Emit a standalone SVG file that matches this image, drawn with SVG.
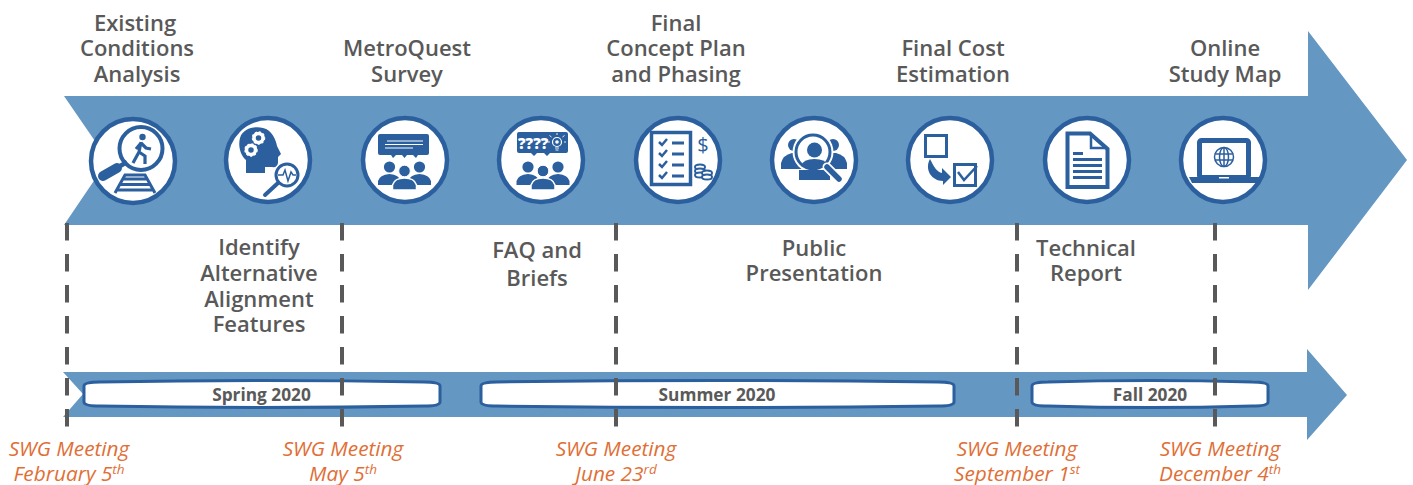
<svg xmlns="http://www.w3.org/2000/svg" width="1413" height="485" viewBox="0 0 1413 485">
<style>
text{font-family:"Open Sans","Noto Sans","Liberation Sans",sans-serif}
.t{font-size:22px;font-weight:600;fill:#595959;text-anchor:middle}
.p{font-size:17.300px;font-weight:700;fill:#595959;text-anchor:middle}
.m{font-size:20.800px;font-style:italic;fill:#df6f37;text-anchor:middle}
.a{fill:#6497c1}
.c{fill:#fff;stroke:#2b5f9e;stroke-width:4.5}
.d{fill:#2b5f9e}
.s{fill:none;stroke:#2b5f9e}
.w{fill:none;stroke:#fff}
.pill{fill:#fff;stroke:#2b5f9e;stroke-width:3}
.dash{stroke:#595959;stroke-width:4;stroke-dasharray:17.5 13.5;fill:none}
</style>
<defs>
<g id="people">
<circle class="d" cx="-15" cy="-4" r="5.6"/><circle class="d" cx="15" cy="-4" r="5.6"/>
<path class="d" d="M-26.500 14V10Q-25 4-15 3Q-5 4-4 10V14ZM26.500 14V10Q25 4 15 3Q5 4 4 10V14Z"/>
<circle class="d" cx="0" cy="0" r="5.800" stroke="#fff" stroke-width="1"/>
<path class="d" stroke="#fff" stroke-width="1.500" d="M-12 19V14Q-10 7 0 7Q10 7 12 14V19Z"/>
</g>
</defs>

<g id="main-arrow"><path class="a" d="M64 96H1308V31L1407 160L1308 290V225H64L108 160Z"/></g>
<g id="season-arrow"><path class="a" d="M63 372H1307V349L1347 395L1307 440V417H63L83 394Z"/></g>

<g id="spring"><path class="pill" d="M84 386Q84 382 100 382Q262 379 424 382Q440 382 440 386V402Q440 406 424 406Q262 409 100 406Q84 406 84 402Z"/><text class="p" x="261.500" y="401">Spring 2020</text></g>
<g id="summer"><path class="pill" d="M481 386Q481 382 497 382Q718 379 938 382Q954 382 954 386V402Q954 406 938 406Q718 409 497 406Q481 406 481 402Z"/><text class="p" x="717" y="401">Summer 2020</text></g>
<g id="fall"><path class="pill" d="M1032 386Q1032 382 1048 382Q1150 379 1252 382Q1268 382 1268 386V402Q1268 406 1252 406Q1150 409 1048 406Q1032 406 1032 402Z"/><text class="p" x="1150" y="401">Fall 2020</text></g>

<g id="connectors">
<path class="dash" d="M67 223V428"/><path class="dash" d="M342 223V428"/><path class="dash" d="M616 223V428"/><path class="dash" d="M1017 223V428"/><path class="dash" d="M1215 223V428"/>
</g>

<g id="n1"><circle class="c" cx="133" cy="161" r="42"/>
<path class="s" stroke-width="3" d="M115 193L125 175H145L155 193M122 179H148M119 184.500H151M116 190H154"/>
<circle cx="141" cy="148.500" r="21.500" fill="#fff" stroke="#2b5f9e" stroke-width="4"/>
<path class="s" stroke-width="10" stroke-linecap="round" d="M103 176L117 168"/><path class="s" stroke-width="4.500" d="M115 169L127 162"/>
<circle class="d" cx="142.500" cy="137" r="3.200"/>
<path class="s" stroke-width="3.200" d="M141 142L139 152L133 163M139 152L145 156V164M141 143L136 149M141 143L146 148L151 149"/>
<text class="t" x="135" y="31">Existing</text><text class="t" x="137" y="56">Conditions</text><text class="t" x="137" y="82">Analysis</text></g>

<g id="n2"><circle class="c" cx="268" cy="160" r="42"/>
<path class="d" d="M246 173V160C240 155 238 145 240 138C243 128 255 126 263 128C272 130 276 140 277 146L281 154L278 157V163Q277 168 272 167H265V173Z"/>
<circle cx="258.500" cy="138" r="4.500" fill="none" stroke="#fff" stroke-width="3.500"/><circle cx="258.500" cy="138" r="6" fill="none" stroke="#fff" stroke-width="1.500" stroke-dasharray="2 2"/>
<circle cx="251" cy="150" r="4.500" fill="none" stroke="#fff" stroke-width="3.500"/><circle cx="251" cy="150" r="6" fill="none" stroke="#fff" stroke-width="1.500" stroke-dasharray="2 2"/>
<circle cx="287" cy="175" r="11" fill="#fff" stroke="#2b5f9e" stroke-width="3"/>
<path class="s" stroke-width="1.500" d="M278 175H283L285 170L288 181L291 172L293 175H296"/>
<path class="s" stroke-width="4" stroke-linecap="round" d="M265 195L278 183"/></g>

<g id="n3"><circle class="c" cx="405" cy="160" r="42"/>
<path class="d" d="M380 134H427Q429 134 429 136V153Q429 155 427 155H418L416 158L413 155H407L404.500 158L402 155H396L393 158L391 155H380Q378 155 378 153V136Q378 134 380 134Z"/>
<path class="w" stroke-width="1" d="M387 141H423M385 144.500H423M385 148H413"/>
<use href="#people" x="404.500" y="171"/>
<text class="t" x="407" y="56">MetroQuest</text><text class="t" x="407" y="82">Survey</text></g>

<g id="n4"><circle class="c" cx="541" cy="160" r="42"/>
<path class="d" d="M519 132H566Q568 132 568 134V151Q568 153 566 153H550L547 156L544 153H537L534 156L531 153H519Q517 153 517 151V134Q517 132 519 132Z"/>
<text x="518" y="149" font-size="15" font-weight="800" fill="#fff">????</text>
<circle cx="557" cy="142" r="4.500" fill="none" stroke="#fff" stroke-width="1.200"/><circle cx="557" cy="142" r="1.800" fill="#fff"/>
<path stroke="#fff" stroke-width=".9" fill="none" d="M549.500 135.500L551.500 137M564.500 135.500L562.500 137M548 142H550M564 142H566M557 133V135M555 148H559M555.500 150H558.500"/>
<use href="#people" x="543" y="171"/>
<text class="t" x="537" y="258">FAQ and</text><text class="t" x="537" y="286">Briefs</text></g>

<g id="n5"><circle class="c" cx="678" cy="160" r="42"/>
<rect x="651.500" y="132.500" width="39" height="52" fill="#fff" stroke="#2b5f9e" stroke-width="3.500"/>
<path class="s" stroke-width="2.500" d="M659 142L662 145L667 139M659 153L662 156L667 150M659 164L662 167L667 161M659 175L662 178L667 172"/>
<path class="s" stroke-width="3" d="M672 143H684M672 154H684M672 165H684M672 176H684"/>
<text x="703" y="152" font-size="20" fill="#2b5f9e" text-anchor="middle">$</text>
<g fill="#fff" stroke="#2b5f9e" stroke-width="2"><ellipse cx="700" cy="167" rx="5" ry="2.500"/><ellipse cx="700" cy="171" rx="5" ry="2.500"/><ellipse cx="700" cy="175" rx="5" ry="2.500"/><ellipse cx="707" cy="173" rx="5" ry="2.500"/><ellipse cx="707" cy="177" rx="5" ry="2.500"/></g>
<text class="t" x="676" y="31">Final</text><text class="t" x="676" y="56">Concept Plan</text><text class="t" x="676" y="82">and Phasing</text></g>

<g id="n6"><circle class="c" cx="814" cy="160" r="42"/>
<circle class="d" cx="794" cy="145" r="6"/><circle class="d" cx="833" cy="145" r="6"/>
<path class="d" d="M781 169V163Q783 155 792 153H836Q845 155 847 163V169Z"/>
<path class="d" d="M799 180V170H830V180Z"/>
<circle cx="813" cy="152" r="20.500" fill="#fff"/>
<circle cx="813" cy="152" r="17" fill="#fff" stroke="#2b5f9e" stroke-width="3"/>
<circle class="d" cx="814.500" cy="150" r="7.500"/><path class="d" d="M801 166Q803 159 814.500 159Q825 159 828 165L824 168H806Z"/>
<path d="M799 170H826V180H799Z" class="d"/>
<path stroke="#fff" stroke-width="9" stroke-linecap="round" d="M827 167L838 178"/>
<path class="s" stroke-width="5.500" stroke-linecap="round" d="M827 167L839 179"/>
<text class="t" x="814" y="256">Public</text><text class="t" x="814" y="281">Presentation</text></g>

<g id="n7"><circle class="c" cx="950" cy="160" r="42"/>
<rect x="925.500" y="135.500" width="21" height="21" fill="#fff" stroke="#2b5f9e" stroke-width="3"/>
<path class="d" d="M930 159C934 167 937 172 942 173V168L951 177L943 185V181C932 181 924 170 930 159Z"/>
<rect x="954.500" y="164.500" width="21" height="21" fill="#fff" stroke="#2b5f9e" stroke-width="3"/>
<path class="s" stroke-width="2.500" d="M958 172L964 180L977 166"/>
<text class="t" x="953" y="56">Final Cost</text><text class="t" x="953" y="82">Estimation</text></g>

<g id="n8"><circle class="c" cx="1087" cy="160" r="42"/>
<path fill="#fff" stroke="#2b5f9e" stroke-width="4" d="M1067.500 133.500H1090L1107.500 149V187H1067.500Z"/>
<path class="s" stroke-width="2.500" d="M1091 134V148H1107"/>
<path class="d" d="M1073 152H1083V155H1073ZM1073 158H1102V161H1073ZM1073 164H1102V167H1073ZM1073 170H1102V173H1073ZM1073 176H1102V179H1073Z"/>
<text class="t" x="1086" y="256">Technical</text><text class="t" x="1086" y="281">Report</text></g>

<g id="n9"><circle class="c" cx="1223" cy="160" r="42"/>
<rect x="1199.500" y="140.500" width="49" height="37" rx="2" fill="#fff" stroke="#2b5f9e" stroke-width="5"/>
<path class="d" d="M1189 177H1261L1258 183H1192Z"/>
<path fill="#fff" d="M1219 177H1229V178.500H1219Z"/>
<g class="s" stroke-width="1.500"><circle cx="1224" cy="157" r="9.500"/><ellipse cx="1224" cy="157" rx="4.500" ry="9.500"/><path d="M1224 147.500V166.500M1215 154H1233M1215 160H1233"/></g>
<text class="t" x="1225" y="56">Online</text><text class="t" x="1225" y="82">Study Map</text></g>

<g id="n10"><text class="t" x="259" y="255">Identify</text><text class="t" x="259" y="281">Alternative</text><text class="t" x="259" y="307">Alignment</text><text class="t" x="259" y="332">Features</text></g>

<g id="meetings">
<text class="m" x="69" y="456">SWG Meeting</text><text class="m" x="69" y="481">February 5<tspan font-size="13.500" dy="-7">th</tspan></text>
<text class="m" x="343" y="456">SWG Meeting</text><text class="m" x="343" y="481">May 5<tspan font-size="13.500" dy="-7">th</tspan></text>
<text class="m" x="616" y="456">SWG Meeting</text><text class="m" x="616" y="481">June 23<tspan font-size="13.500" dy="-7">rd</tspan></text>
<text class="m" x="1017" y="456">SWG Meeting</text><text class="m" x="1017" y="481">September 1<tspan font-size="13.500" dy="-7">st</tspan></text>
<text class="m" x="1220" y="456">SWG Meeting</text><text class="m" x="1220" y="481">December 4<tspan font-size="13.500" dy="-7">th</tspan></text>
</g>
</svg>
